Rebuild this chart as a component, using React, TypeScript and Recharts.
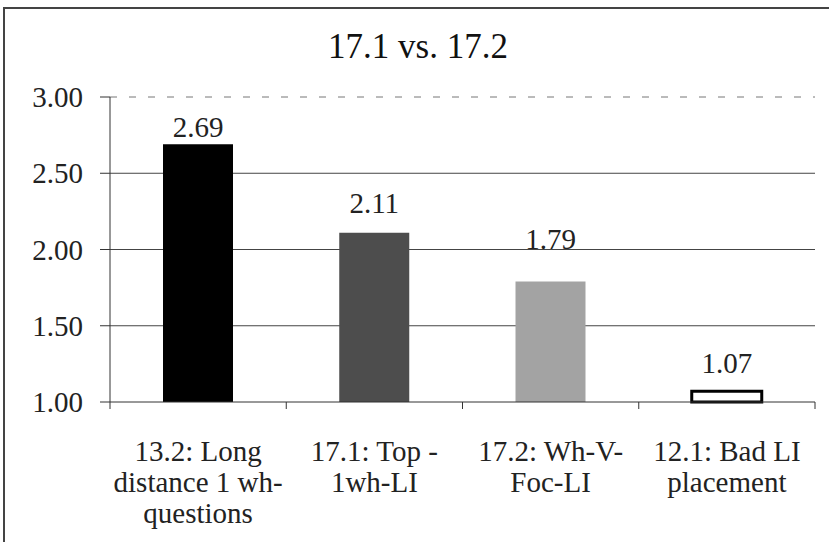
import { Bar, BarChart, CartesianGrid, Cell, ReferenceLine, XAxis, YAxis } from "recharts";

const categories = ["13.2", "17.1", "17.2", "12.1"];
const scores = [2.69, 2.11, 1.79, 1.07];
const tickLabels = [
  ["13.2: Long", "distance 1 wh-", "questions"],
  ["17.1: Top -", "1wh-LI"],
  ["17.2: Wh-V-", "Foc-LI"],
  ["12.1: Bad LI", "placement"],
];
const yTicks = [1, 1.5, 2, 2.5, 3];
const title = "17.1 vs. 17.2";

const fills = ["#000000", "#4d4d4d", "#a3a3a3", "#ffffff"];
const labelGap = [7, 20, 33, 18];
const FONT = "'Liberation Serif'";
const W = 829;
const H = 542;
const PLOT_LEFT = 110;
const PLOT_RIGHT = 815;
const BAND = (PLOT_RIGHT - PLOT_LEFT) / categories.length;

const data = categories.map((c, i) => ({ name: c, score: scores[i] }));

const textStyle = { fontFamily: FONT, fontSize: 29 };

const CategoryTick = (props: any) => {
  const { x, y, index } = props;
  const lines = tickLabels[index] || [];
  return (
    <g>
      <line x1={x - BAND / 2} x2={x - BAND / 2} y1={y} y2={y + 7} stroke="#333" />
      {index === categories.length - 1 && (
        <line x1={x + BAND / 2} x2={x + BAND / 2} y1={y} y2={y + 7} stroke="#333" />
      )}
      {lines.map((t: string, i: number) => (
        <text key={i} x={x} y={y + 59 + i * 31} textAnchor="middle" style={textStyle} fill="#222">
          {t}
        </text>
      ))}
    </g>
  );
};

const YTick = (props: any) => {
  const { x, y, payload } = props;
  return (
    <text x={x} y={y + 10} textAnchor="end" style={textStyle} fill="#222">
      {Number(payload.value).toFixed(2)}
    </text>
  );
};

const renderValue = (props: any) => {
  const { x, y, width, value, index } = props;
  return (
    <text x={x + width / 2} y={y - labelGap[index]} textAnchor="middle" style={textStyle} fill="#222">
      {Number(value).toFixed(2)}
    </text>
  );
};

const App = () => {
  return (
    <div style={{ position: "absolute", left: 0, top: 0, width: W, height: H, background: "#fff" }}>
      <BarChart
        width={W}
        height={H}
        data={data}
        margin={{ top: 97, right: W - PLOT_RIGHT, bottom: 20, left: 0 }}
      >
        <CartesianGrid vertical={false} horizontalValues={[1.5, 2, 2.5]} stroke="#444" />
        <ReferenceLine y={3} stroke="#777" strokeDasharray="7 12" />
        <XAxis
          dataKey="name"
          height={120}
          axisLine={{ stroke: "#333" }}
          tickLine={false}
          tickSize={0}
          tickMargin={0}
          interval={0}
          tick={<CategoryTick />}
        />
        <YAxis
          width={PLOT_LEFT}
          domain={[1, 3]}
          ticks={yTicks}
          axisLine={{ stroke: "#333" }}
          tickLine={{ stroke: "#333" }}
          tickSize={10}
          tickMargin={17}
          tick={<YTick />}
        />
        <Bar dataKey="score" barSize={70} isAnimationActive={false} label={renderValue}>
          {data.map((d, i) => (
            <Cell
              key={d.name}
              fill={fills[i]}
              stroke={i === 3 ? "#000" : "none"}
              strokeWidth={i === 3 ? 3 : 0}
            />
          ))}
        </Bar>
      </BarChart>
      <svg
        width={W}
        height={H}
        style={{ position: "absolute", left: 0, top: 0, pointerEvents: "none" }}
      >
        <rect x={4} y={8} width={W + 20} height={H + 20} fill="none" stroke="#444" strokeWidth={2} />
        <text x={418} y={58} textAnchor="middle" style={{ fontFamily: FONT, fontSize: 35 }} fill="#111">
          {title}
        </text>
      </svg>
    </div>
  );
};

export default App;
